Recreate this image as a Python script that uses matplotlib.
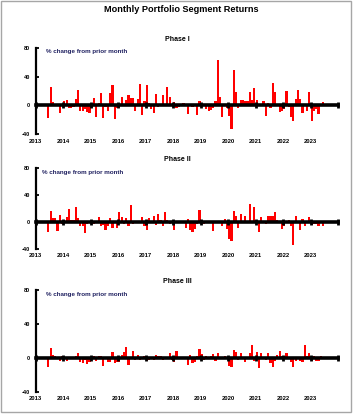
import matplotlib
matplotlib.use("Agg")
import matplotlib.pyplot as plt
from matplotlib.patches import Rectangle
import numpy as np
import pandas as pd

plt.rcParams['font.family'] = ['Liberation Sans', 'DejaVu Sans']
plt.rcParams['font.weight'] = 'bold'

# monthly returns, Jun 2013 .. Jun 2023 (% change from prior month)
months = pd.date_range('2013-06-01', periods=121, freq='MS')

phase1 = [-18, 25, 5, 0, 1, -11, 2, 6, 7, -4, -3, -2, 9, 22, -7, -7, -5, -9, -10, -3,
          10, -16, 4, 17, -17, -2, -8, 18, 28, -19, -3, -3, 12, -1, 8, 15, 11, 10, -7, 9,
          30, -13, 6, 29, 3, -5, -11, 16, -2, 0, 15, -1, 25, 12, -1, 5, -4, -2, 0, 3,
          0, -12, 2, -2, 0, -13, 6, 0, 0, -5, -7, -6, -3, 6, 63, 12, -16, 0, -3, -15,
          -33, 49, 19, -3, 8, 8, 6, 6, 19, 7, 24, 8, 0, 0, 6, -15, 4, -3, 31, 19,
          0, -9, -8, -5, 20, -2, -16, -21, 9, 22, 9, -10, 0, -8, 19, -22, -8, -5, -12, 0,
          5]

phase2 = [-14, 17, 7, 6, -13, 11, -2, 3, 8, 19, 4, 3, 23, 7, -5, -6, -16, -2, 0, 4,
          -3, -1, 8, -5, -4, -11, -5, 7, -9, 0, -8, 15, 8, -3, 7, -6, 25, -3, 0, 0,
          0, 8, -6, -12, 7, 0, 9, -4, 13, 3, -6, 16, 3, -2, 0, -11, 0, 0, 0, 0,
          -9, 5, -12, -14, -10, -3, 18, 4, -2, 0, 0, 0, -13, 0, 0, 0, -6, 5, -10, -25,
          -27, 17, 9, -9, 12, 0, 9, 0, 27, 0, 22, 0, -15, 8, 0, -2, 10, 10, 10, 16,
          3, 0, -10, -5, 0, 3, -6, -33, 10, 0, -12, 5, -5, 2, 8, -4, -3, -2, -5, 0,
          -5]

phase3 = [-10, 12, 4, 3, 0, -3, 2, 1, -3, 1, 0, 0, 2, 6, -4, -6, -2, -7, -4, 0,
          3, -3, 3, 3, -9, -1, -5, -5, 7, -6, -5, -5, 4, 7, 13, -8, 0, 8, -2, 4,
          -2, 1, 3, -3, -2, 1, -2, 4, 3, 3, -2, 1, 1, 6, -2, -5, 8, 0, 0, 0,
          1, -8, 4, -6, -5, 3, 11, 5, -2, 2, 0, 3, 5, -3, 6, 0, 0, 3, 0, -9,
          -10, 10, 7, -2, 6, 0, -5, 0, 6, 15, -3, 7, -11, 6, 0, -2, 6, -6, -10, -3,
          4, 9, 3, 3, 6, 0, -4, -10, -3, 0, -3, -4, 16, 3, 6, -3, 3, -3, -3, 3,
          0]

panel_titles = ['Phase I', 'Phase II', 'Phase III']
years = list(range(2013, 2025))
year_labels = [str(y) for y in range(2013, 2024)]
yticks = [-40, 0, 40, 80]

x = months.year + (months.month - 0.5) / 12

fig = plt.figure(figsize=(3.55, 4.16), dpi=100)
fig.add_artist(Rectangle((0.003, 0.0096), 0.986, 0.988, transform=fig.transFigure,
                         fill=False, edgecolor='#a6a6a6', lw=1))
fig.text(0.51, 0.976, 'Monthly Portfolio Segment Returns', ha='center', va='center',
         fontsize=6.6, fontweight='bold')

# [left, bottom, width, height] for each panel
boxes = [[0.1006, 0.677, 0.8515, 0.2082],
         [0.1006, 0.4007, 0.8515, 0.1947],
         [0.1006, 0.057, 0.8515, 0.2459]]
title_y = [39.3, 159.3, 281.7]
note_x = [0.034, 0.02, 0.033]

for i, vals in enumerate([phase1, phase2, phase3]):
    ax = fig.add_axes(boxes[i])
    ax.bar(x, vals, width=0.95 / 12, color='#ff0000', linewidth=0, zorder=1)
    ax.set_xlim(2013, 2024)
    ax.set_ylim(-40, 80)

    for s in ['top', 'right']:
        ax.spines[s].set_visible(False)
    ax.spines['left'].set_linewidth(1.6)
    ax.spines['bottom'].set_position(('data', 0))
    ax.spines['bottom'].set_linewidth(2.6)
    ax.spines['bottom'].set_zorder(3)

    ax.set_yticks(yticks)
    ax.set_yticklabels([str(v) for v in yticks], fontsize=4, fontweight='bold')
    ax.tick_params(axis='y', direction='in', length=2.5, width=1.3, pad=4)

    ax.set_xticks(years)
    ax.tick_params(axis='x', direction='inout', length=4.5, width=2, labelbottom=False)

    sec = ax.secondary_xaxis('bottom')
    sec.set_xticks(years[:-1])
    sec.set_xticklabels(year_labels, fontsize=4.2, fontweight='bold')
    sec.tick_params(length=0, pad=3)
    sec.spines['bottom'].set_visible(False)

    fig.text(177 / 355, 1 - title_y[i] / 416, panel_titles[i], ha='center', va='center',
             fontsize=5, fontweight='bold')
    ax.text(note_x[i], 0.985, '% change from prior month', transform=ax.transAxes,
            ha='left', va='top', fontsize=4.5, fontweight='bold', color='#1f2060')

fig.savefig('out.png', dpi=100)
